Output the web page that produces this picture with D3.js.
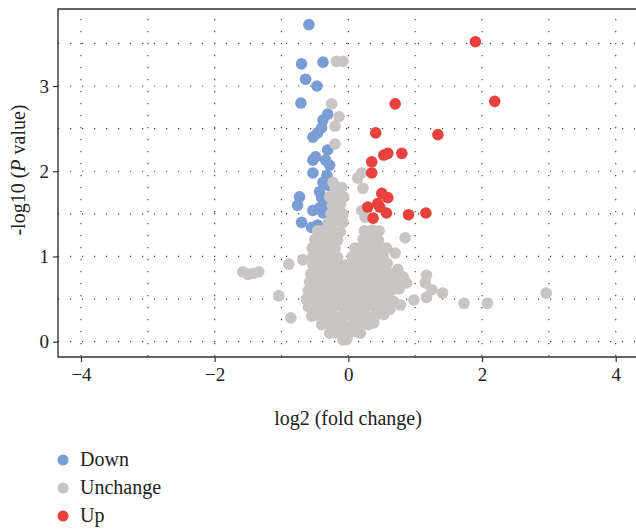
<!DOCTYPE html>
<html>
<head>
<meta charset="utf-8">
<script src="https://cdn.jsdelivr.net/npm/d3@7"></script>
<style>
  body { margin: 0; background: #fff; }
  text { font-family: "Liberation Serif", "DejaVu Serif", serif; fill: #222; }
</style>
</head>
<body>
<script>

// categories and colours
var groups = ["Down", "Unchange", "Up"];
var groupColors = ["#7b9dd5", "#c8c5c4", "#e8423e"];

// tick values
var xTicks = [-4, -2, 0, 2, 4];
var yTicks = [0, 1, 2, 3];

// down regulated: [log2 fold change, -log10 p]
var downPoints = [
  [-0.59, 3.72], [-0.70, 3.26], [-0.38, 3.28], [-0.64, 3.08], [-0.47, 3.00],
  [-0.71, 2.80], [-0.38, 2.60], [-0.31, 2.67], [-0.46, 2.45], [-0.53, 2.40],
  [-0.40, 2.51], [-0.31, 2.25], [-0.28, 2.07], [-0.34, 2.13], [-0.53, 2.13],
  [-0.49, 2.17], [-0.53, 1.98], [-0.38, 1.87], [-0.43, 1.76], [-0.40, 1.69],
  [-0.73, 1.70], [-0.76, 1.60], [-0.53, 1.54], [-0.43, 1.57], [-0.38, 1.51],
  [-0.70, 1.40], [-0.55, 1.34], [-0.46, 1.37], [-0.34, 1.60], [-0.32, 1.95],
  [-0.29, 1.83]
];

// up regulated
var upPoints = [
  [1.90, 3.52], [2.19, 2.82], [0.70, 2.79], [0.41, 2.45], [1.34, 2.43],
  [0.53, 2.19], [0.59, 2.21], [0.80, 2.21], [0.35, 2.11], [0.35, 1.98],
  [0.50, 1.74], [0.59, 1.69], [0.44, 1.62], [0.29, 1.58], [0.57, 1.51],
  [0.37, 1.45], [0.90, 1.49], [1.16, 1.51], [0.47, 1.58]
];

// unchanged
var unchangePoints = [
  [-0.08, 0.02], [-0.02, 0.03],
  [-0.28, 0.10], [-0.18, 0.11], [-0.10, 0.10], [0.00, 0.10], [0.10, 0.12], [0.18, 0.10],
  [-0.40, 0.20], [-0.30, 0.21], [-0.18, 0.20], [-0.06, 0.19], [0.06, 0.20], [0.18, 0.21], [0.30, 0.20], [0.38, 0.22],
  [-0.55, 0.30], [-0.45, 0.31], [-0.32, 0.30], [-0.20, 0.29], [-0.08, 0.30], [0.04, 0.31], [0.16, 0.30], [0.28, 0.29], [0.40, 0.30], [0.53, 0.32],
  [-0.60, 0.41], [-0.48, 0.40], [-0.35, 0.39], [-0.22, 0.40], [-0.10, 0.41], [0.02, 0.40], [0.14, 0.39], [0.26, 0.40], [0.38, 0.41], [0.50, 0.40], [0.62, 0.38],
  [-0.63, 0.50], [-0.50, 0.51], [-0.38, 0.50], [-0.25, 0.49], [-0.12, 0.50], [0.00, 0.51], [0.12, 0.50], [0.24, 0.49], [0.36, 0.50], [0.48, 0.51], [0.60, 0.50], [0.68, 0.47],
  [-0.60, 0.60], [-0.47, 0.61], [-0.34, 0.60], [-0.22, 0.59], [-0.10, 0.60], [0.02, 0.61], [0.15, 0.60], [0.28, 0.59], [0.40, 0.60], [0.52, 0.61], [0.64, 0.60], [0.76, 0.62],
  [-0.58, 0.70], [-0.45, 0.71], [-0.32, 0.70], [-0.20, 0.69], [-0.08, 0.70], [0.05, 0.71], [0.18, 0.70], [0.30, 0.69], [0.42, 0.70], [0.55, 0.71], [0.68, 0.70], [0.78, 0.72],
  [-0.56, 0.80], [-0.44, 0.81], [-0.32, 0.80], [-0.20, 0.79], [-0.08, 0.80], [0.04, 0.81], [0.16, 0.80], [0.28, 0.79], [0.40, 0.80], [0.52, 0.81], [0.64, 0.80], [0.74, 0.83],
  [-0.53, 0.90], [-0.40, 0.91], [-0.28, 0.90], [-0.16, 0.89], [-0.04, 0.90], [0.10, 0.91], [0.22, 0.90], [0.34, 0.89], [0.46, 0.90], [0.58, 0.92],
  [-0.53, 1.00], [-0.40, 1.01], [-0.28, 1.00], [-0.16, 0.99], [0.06, 1.00], [0.18, 1.01], [0.30, 1.00], [0.42, 0.99], [0.52, 1.00],
  [-0.54, 1.10], [-0.44, 1.11], [-0.32, 1.10], [-0.20, 1.09], [0.10, 1.10], [0.22, 1.11], [0.34, 1.10], [0.44, 1.08],
  [-0.50, 1.20], [-0.40, 1.21], [-0.28, 1.20], [-0.16, 1.19], [0.22, 1.20], [0.34, 1.21], [0.45, 1.19],
  [-0.46, 1.30], [-0.36, 1.31], [-0.24, 1.30], [-0.12, 1.29], [0.24, 1.30], [0.36, 1.31], [0.46, 1.30],
  [-0.30, 1.40], [-0.20, 1.41], [-0.08, 1.40],
  [-0.26, 1.50], [-0.16, 1.51], [-0.08, 1.50],
  [-0.24, 1.60], [-0.12, 1.61],
  [-0.28, 1.70], [-0.15, 1.71], [-0.07, 1.70],
  [-0.20, 1.80], [-0.10, 1.81],
  // scattered ones
  [-0.18, 3.29], [-0.08, 3.29], [-0.25, 2.79], [-0.14, 2.64], [-0.20, 2.53],
  [-0.20, 2.32], [-0.23, 1.87], [-0.16, 1.80], [0.14, 1.92], [0.20, 1.98],
  [0.22, 1.80], [0.20, 1.54], [0.25, 1.46], [-0.20, 1.60], [-0.14, 1.48],
  [-1.58, 0.82], [-1.50, 0.79], [-1.42, 0.80], [-1.34, 0.82], [-0.89, 0.91],
  [-0.68, 0.96], [-1.04, 0.54], [-0.86, 0.28],
  [0.85, 1.22], [0.57, 1.10], [0.70, 1.04], [0.74, 0.85], [0.82, 0.76],
  [0.87, 0.69], [1.17, 0.78], [1.15, 0.69], [1.25, 0.61], [1.41, 0.57],
  [1.17, 0.52], [0.98, 0.49], [1.73, 0.45], [2.08, 0.45], [2.96, 0.57], [0.78, 0.43]
];

var seriesPoints = [downPoints, unchangePoints, upPoints];

// set dimension
var width = 636, height = 531;
var plot = {left: 58, top: 9, right: 636, bottom: 357};

var svg = d3.select("body")
    .append("svg")
    .attr("width", width)
    .attr("height", height);

// set scales
var x = d3.scaleLinear().domain([-4, 4]).range([81, 615.7]),
    y = d3.scaleLinear().domain([0, 3]).range([341.7, 86]);

// dotted grid
var grid = svg.append("g");
grid.selectAll(".vgrid")
    .data(d3.range(-4, 5, 1))
    .enter().append("line")
    .attr("x1", function(d) { return x(d); })
    .attr("x2", function(d) { return x(d); })
    .attr("y1", plot.top)
    .attr("y2", plot.bottom)
    .attr("stroke", "#444")
    .attr("stroke-width", 1.2)
    .attr("stroke-dasharray", "1.2,10.8")
    .attr("stroke-dashoffset", -10);
grid.selectAll(".hgrid")
    .data(d3.range(0, 4, 0.5))
    .enter().append("line")
    .attr("x1", plot.left)
    .attr("x2", plot.right)
    .attr("y1", function(d) { return y(d); })
    .attr("y2", function(d) { return y(d); })
    .attr("stroke", "#444")
    .attr("stroke-width", 1.2)
    .attr("stroke-dasharray", "1.2,10.8")
    .attr("stroke-dashoffset", -12);

// points, one layer per group
seriesPoints.forEach(function(pts, i) {
    svg.append("g")
        .selectAll("circle")
        .data(pts)
        .enter().append("circle")
        .attr("cx", function(d) { return x(d[0]); })
        .attr("cy", function(d) { return y(d[1]); })
        .attr("r", 5.8)
        .attr("fill", groupColors[i]);
});

// frame: left, top, bottom
svg.append("path")
    .attr("d", "M" + plot.right + "," + plot.top + "H" + plot.left + "V" + plot.bottom + "H" + plot.right)
    .attr("fill", "none")
    .attr("stroke", "#333")
    .attr("stroke-width", 1.4);

// x axis
var xAxis = svg.append("g")
    .attr("transform", "translate(0," + plot.bottom + ")")
    .call(d3.axisBottom(x).tickValues(xTicks).tickSize(5).tickPadding(6).tickFormat(d3.format("d")));
xAxis.select(".domain").remove();
xAxis.selectAll("line").attr("stroke", "#333").attr("stroke-width", 1.2);
xAxis.selectAll("text")
    .style("font-family", "Liberation Serif")
    .style("font-size", "19px")
    .attr("fill", "#222");

// y axis
var yAxis = svg.append("g")
    .attr("transform", "translate(" + plot.left + ",0)")
    .call(d3.axisLeft(y).tickValues(yTicks).tickSize(5).tickPadding(4).tickFormat(d3.format("d")));
yAxis.select(".domain").remove();
yAxis.selectAll("line").attr("stroke", "#333").attr("stroke-width", 1.2);
yAxis.selectAll("text")
    .style("font-family", "Liberation Serif")
    .style("font-size", "19px")
    .attr("fill", "#222");

// axis titles
svg.append("text")
    .attr("x", 348)
    .attr("y", 425)
    .style("text-anchor", "middle")
    .style("font-size", "20px")
    .text("log2 (fold change)");

var yTitle = svg.append("text")
    .attr("transform", "translate(25,170) rotate(-90)")
    .style("text-anchor", "middle")
    .style("font-size", "20px");
yTitle.append("tspan").text("-log10 (");
yTitle.append("tspan").style("font-style", "italic").text("P");
yTitle.append("tspan").text(" value)");

// legend
var legend = svg.append("g")
    .selectAll("g")
    .data(groups)
    .enter().append("g")
    .attr("transform", function(d, i) { return "translate(63," + (460 + i * 28) + ")"; });
legend.append("circle")
    .attr("r", 5.5)
    .attr("fill", function(d, i) { return groupColors[i]; });
legend.append("text")
    .attr("x", 17)
    .attr("y", 6)
    .style("font-size", "20px")
    .text(function(d) { return d; });

</script>
</body>
</html>
